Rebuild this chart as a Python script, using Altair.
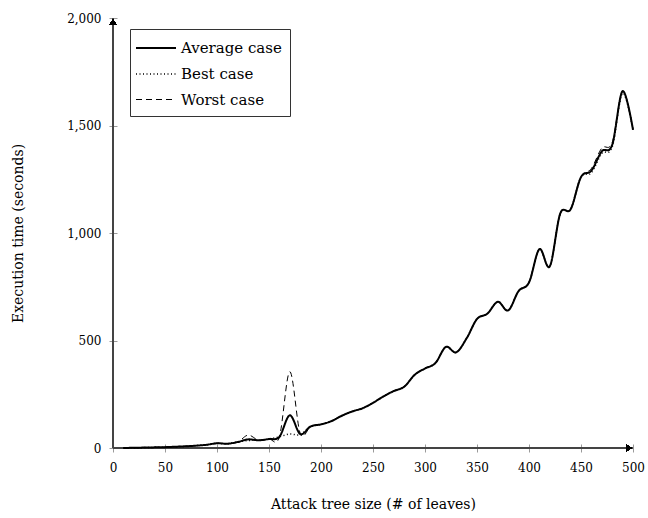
import altair as alt
import pandas as pd

sizes = [10, 20, 30, 40, 50, 60, 70, 80, 90, 100,
         110, 120, 130, 140, 150, 160, 170, 180, 190, 200,
         210, 220, 230, 240, 250, 260, 270, 280, 290, 300,
         310, 320, 330, 340, 350, 360, 370, 380, 390, 400,
         410, 420, 430, 440, 450, 460, 470, 480, 490, 500]

average = [0, 1, 2, 3, 4, 6, 8, 11, 15, 22,
           20, 28, 40, 36, 42, 52, 152, 65, 100, 110,
           125, 150, 170, 185, 210, 240, 265, 285, 340, 370,
           395, 470, 445, 510, 600, 625, 680, 640, 730, 770,
           925, 845, 1090, 1110, 1260, 1290, 1380, 1410, 1660, 1480]

best = [0, 1, 2, 3, 4, 6, 8, 11, 15, 22,
        20, 28, 35, 36, 42, 52, 65, 62, 100, 110,
        125, 150, 170, 185, 210, 240, 265, 285, 340, 370,
        395, 470, 445, 510, 600, 625, 680, 640, 730, 770,
        925, 845, 1090, 1110, 1260, 1280, 1370, 1400, 1650, 1480]

worst = [0, 1, 2, 3, 4, 6, 8, 11, 15, 22,
         20, 28, 60, 36, 42, 52, 355, 68, 100, 110,
         125, 150, 170, 185, 210, 240, 265, 285, 340, 370,
         395, 470, 445, 510, 600, 625, 680, 640, 730, 770,
         925, 845, 1090, 1110, 1260, 1300, 1395, 1420, 1660, 1480]

series_names = ["Average case", "Best case", "Worst case"]
x_ticks = [0, 50, 100, 150, 200, 250, 300, 350, 400, 450, 500]
y_ticks = [0, 500, 1000, 1500, 2000]

rows = []
for name, vals in zip(series_names, [average, best, worst]):
    for s, v in zip(sizes, vals):
        rows.append({"size": s, "time": v, "case": name})
df = pd.DataFrame(rows)

FONT = "DejaVu Serif"

xscale = alt.Scale(domain=[0, 500], nice=False)
yscale = alt.Scale(domain=[0, 2000], nice=False)

lines = alt.Chart(df).mark_line(interpolate="cardinal", color="black").encode(
    x=alt.X("size:Q", scale=xscale, title="Attack tree size (# of leaves)",
            axis=alt.Axis(values=x_ticks, format="d", domain=False, grid=False,
                          offset=-4, tickSize=8, tickColor="#9a9a9a", tickWidth=1,
                          labelFlush=False, labelOverlap=False,
                          labelPadding=10, titlePadding=24)),
    y=alt.Y("time:Q", scale=yscale, title="Execution time (seconds)",
            axis=alt.Axis(values=y_ticks, format=",d", domain=False, grid=False,
                          offset=-4, tickSize=8, tickColor="#9a9a9a", tickWidth=1,
                          labelFlush=False, labelOverlap=False,
                          labelPadding=8, titlePadding=41)),
    strokeDash=alt.StrokeDash("case:N",
        scale=alt.Scale(domain=series_names, range=[[1, 0], [1, 2.5], [6, 4]]),
        legend=alt.Legend(title=None, orient="none", legendX=17, legendY=11,
                          symbolType="M-2,0H2", symbolSize=400, symbolStrokeWidth=2,
                          symbolStrokeColor="black", symbolOffset=7,
                          labelFont=FONT, labelFontSize=15, labelColor="black",
                          strokeColor="#333", fillColor="white", padding=8,
                          rowPadding=7, labelOffset=14)),
    strokeWidth=alt.StrokeWidth("case:N",
        scale=alt.Scale(domain=series_names, range=[2, 1, 2.2]), legend=None),
    order=alt.Order("size:Q"),
)

xaxis_line = alt.Chart(df).mark_rule(color="#444", strokeWidth=1).encode(
    y=alt.datum(0, scale=yscale))
yaxis_line = alt.Chart(df).mark_rule(color="#444", strokeWidth=1).encode(
    x=alt.datum(0, scale=xscale))

arrow_x = alt.Chart(df).mark_point(shape="triangle-right", filled=True, color="black",
                                   size=40, opacity=1, xOffset=-4).encode(
    x=alt.datum(500, scale=xscale), y=alt.datum(0, scale=yscale))
arrow_y = alt.Chart(df).mark_point(shape="triangle-up", filled=True, color="black",
                                   size=40, opacity=1, yOffset=4).encode(
    x=alt.datum(0, scale=xscale), y=alt.datum(2000, scale=yscale))

chart = alt.layer(xaxis_line, yaxis_line, lines, arrow_x, arrow_y).properties(
    width=520, height=430,
    autosize=alt.AutoSizeParams(type="none"),
    padding={"left": 113, "top": 18, "right": 15, "bottom": 70},
).configure(font=FONT).configure_view(stroke=None).configure_axis(
    labelFont=FONT, labelFontSize=12, labelColor="black",
    titleFont=FONT, titleFontSize=14, titleColor="black", titleFontWeight="normal",
).configure_legend(labelFont=FONT, labelFontSize=15, labelColor="black")

chart.save("out.html", embed_options={"renderer": "svg", "actions": False})
